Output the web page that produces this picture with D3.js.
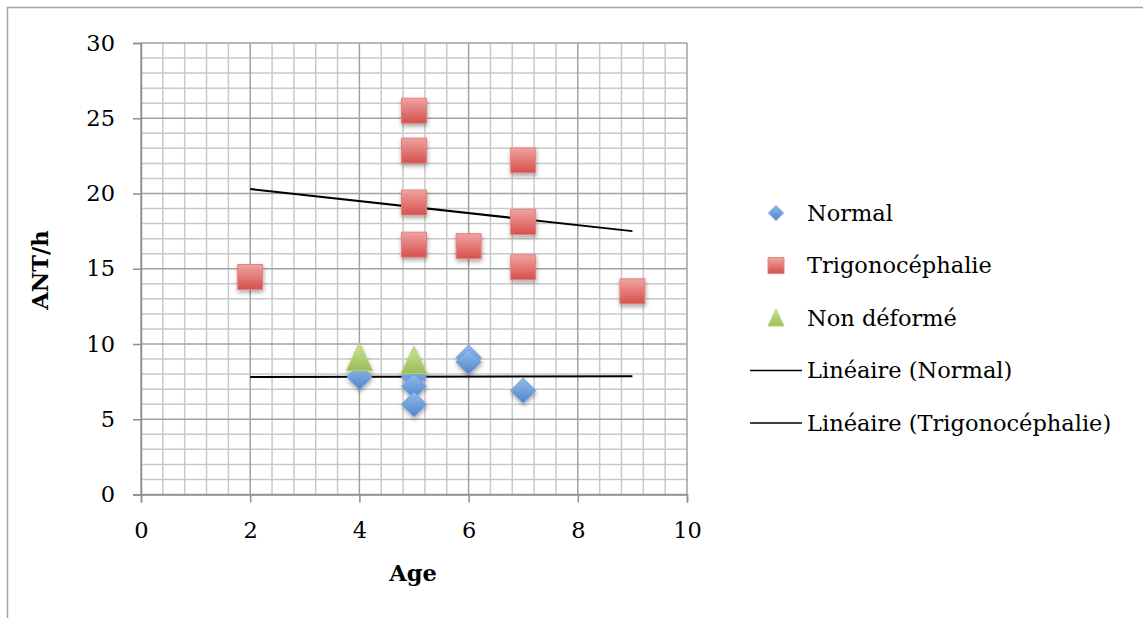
<!DOCTYPE html>
<html>
<head>
<meta charset="utf-8">
<script src="https://cdn.jsdelivr.net/npm/d3@7"></script>
<style>
  body { margin: 0; background: #fff; }
  svg text { font-family: "DejaVu Serif", "Liberation Serif", serif; fill: #000; }
</style>
</head>
<body>
<svg width="1143" height="618"></svg>
<script>
// values
const normalAge = [4, 5, 5, 5, 6, 6, 7]
const normalAnt = [7.8, 7.8, 7.2, 6.0, 9.1, 8.8, 6.9]
const trigoAge = [2, 5, 5, 5, 5, 6, 7, 7, 7, 9]
const trigoAnt = [14.45, 25.5, 22.85, 19.4, 16.6, 16.5, 22.2, 18.1, 15.1, 13.5]
const nonDefAge = [4, 5]
const nonDefAnt = [9.1, 8.9]
// trend lines (linear fit as shown in the chart)
const trendAge = [2, 9]
const trendNormal = [7.8, 7.85]
const trendTrigo = [20.3, 17.5]
const xTicks = [0, 2, 4, 6, 8, 10]
const yTicks = [0, 5, 10, 15, 20, 25, 30]
const legendLabels = ["Normal", "Trigonocéphalie", "Non déformé", "Linéaire (Normal)", "Linéaire (Trigonocéphalie)"]

const fontSize = 22.5
const svg = d3.select("svg")
const x = d3.scaleLinear().domain([0, 10]).range([141, 687])
const y = d3.scaleLinear().domain([0, 30]).range([494.5, 43])

svg.append("rect").attr("width", 1143).attr("height", 618).attr("fill", "#fff")
svg.append("rect")
   .attr("x", 7.5).attr("y", 7.5).attr("width", 1160).attr("height", 640)
   .attr("fill", "none").attr("stroke", "#a3a3a3").attr("stroke-width", 1.5)

const defs = svg.append("defs")
function grad(id, top, bottom) {
   const g = defs.append("linearGradient").attr("id", id)
      .attr("x1", 0).attr("y1", 0).attr("x2", 0).attr("y2", 1)
   g.append("stop").attr("offset", "0%").attr("stop-color", top)
   g.append("stop").attr("offset", "100%").attr("stop-color", bottom)
}
grad("gRed", "#f1a3a1", "#d4504c")
grad("gBlue", "#94bcea", "#4d85cb")
grad("gGreen", "#cde39a", "#9bbd55")
const f = defs.append("filter").attr("id", "shadow")
   .attr("x", "-50%").attr("y", "-50%").attr("width", "200%").attr("height", "200%")
f.append("feDropShadow").attr("dx", 0.5).attr("dy", 2.5).attr("stdDeviation", 2)
   .attr("flood-color", "#000").attr("flood-opacity", 0.35)

// grid
const grid = svg.append("g")
const minorX = d3.range(0, 10.001, 0.4).filter(v => Math.abs(v / 2 - Math.round(v / 2)) > 1e-6)
const minorY = d3.range(0, 30.001, 1).filter(v => v % 5 !== 0)
grid.selectAll(".mx").data(minorX).enter().append("line")
   .attr("x1", d => x(d)).attr("x2", d => x(d)).attr("y1", y(0)).attr("y2", y(30))
   .attr("stroke", "#c9c9c9").attr("stroke-width", 1.5)
grid.selectAll(".my").data(minorY).enter().append("line")
   .attr("x1", x(0)).attr("x2", x(10)).attr("y1", d => y(d)).attr("y2", d => y(d))
   .attr("stroke", "#c9c9c9").attr("stroke-width", 1.5)
grid.selectAll(".Mx").data(xTicks).enter().append("line")
   .attr("x1", d => x(d)).attr("x2", d => x(d)).attr("y1", y(0)).attr("y2", y(30))
   .attr("stroke", "#a2a2a2").attr("stroke-width", 1.5)
grid.selectAll(".My").data(yTicks).enter().append("line")
   .attr("x1", x(0)).attr("x2", x(10)).attr("y1", d => y(d)).attr("y2", d => y(d))
   .attr("stroke", "#a2a2a2").attr("stroke-width", 1.5)

// axes
const xAxis = svg.append("g").attr("transform", "translate(0," + y(0) + ")")
   .call(d3.axisBottom(x).tickValues(xTicks).tickSize(8).tickPadding(20))
const yAxis = svg.append("g").attr("transform", "translate(" + x(0) + ",0)")
   .call(d3.axisLeft(y).tickValues(yTicks).tickSize(8).tickPadding(18))
;[xAxis, yAxis].forEach(a => {
   a.select(".domain").attr("stroke", "#8f8f8f").attr("stroke-width", 1.5)
   a.selectAll(".tick line").attr("stroke", "#8f8f8f").attr("stroke-width", 1.5)
   a.selectAll("text").attr("font-size", fontSize).attr("font-family", null)
})

svg.append("text").attr("x", 413).attr("y", 581).attr("text-anchor", "middle")
   .attr("font-size", fontSize).attr("font-weight", "bold").text("Age")
svg.append("text").attr("transform", "translate(48,270) rotate(-90)")
   .attr("text-anchor", "middle").attr("font-size", fontSize).attr("font-weight", "bold").text("ANT/h")

// trend lines
const line = d3.line().x(d => x(d[0])).y(d => y(d[1]))
const trends = [trendNormal, trendTrigo].map(t => trendAge.map((a, i) => [a, t[i]]))
svg.selectAll(".trend").data(trends).enter().append("path")
   .attr("d", line).attr("fill", "none").attr("stroke", "#000").attr("stroke-width", 2)

// marker shapes
function diamond(s) { return `M0,${-s / 2}L${s / 2},0L0,${s / 2}L${-s / 2},0Z` }
function square(s) { return `M${-s / 2},${-s / 2}h${s}v${s}h${-s}Z` }
function triangle(s) { return `M0,${-s * 0.55}L${s / 2},${s * 0.5}L${-s / 2},${s * 0.5}Z` }

const pts = svg.append("g").attr("filter", "url(#shadow)")
function series(ages, vals, shape, fill, stroke) {
   pts.append("g").selectAll("path").data(ages.map((a, i) => [a, vals[i]])).enter().append("path")
      .attr("transform", d => "translate(" + x(d[0]) + "," + y(d[1]) + ")")
      .attr("d", shape).attr("fill", fill).attr("stroke", stroke).attr("stroke-width", 1)
}
series(trigoAge, trigoAnt, square(25), "url(#gRed)", "#e2827f")
series(normalAge, normalAnt, diamond(25), "url(#gBlue)", "#6e9fdc")
series(nonDefAge, nonDefAnt, triangle(26), "url(#gGreen)", "#b3d272")

// legend
const leg = svg.append("g")
const legY = d3.range(5).map(i => 213 + i * 52.5)
const legShapes = [[diamond(15), "url(#gBlue)", "#6e9fdc"], [square(16), "url(#gRed)", "#e2827f"], [triangle(16), "url(#gGreen)", "#b3d272"]]
legShapes.forEach((s, i) => {
   leg.append("path").attr("transform", "translate(776," + legY[i] + ")")
      .attr("d", s[0]).attr("fill", s[1]).attr("stroke", s[2])
})
legY.slice(3).forEach(yy => {
   leg.append("line").attr("x1", 750).attr("x2", 802).attr("y1", yy).attr("y2", yy)
      .attr("stroke", "#000").attr("stroke-width", 1.5)
})
leg.selectAll("text").data(legendLabels).enter().append("text")
   .attr("x", 807).attr("y", (d, i) => legY[i]).attr("dy", "0.35em")
   .attr("font-size", fontSize).text(d => d)
</script>
</body>
</html>
